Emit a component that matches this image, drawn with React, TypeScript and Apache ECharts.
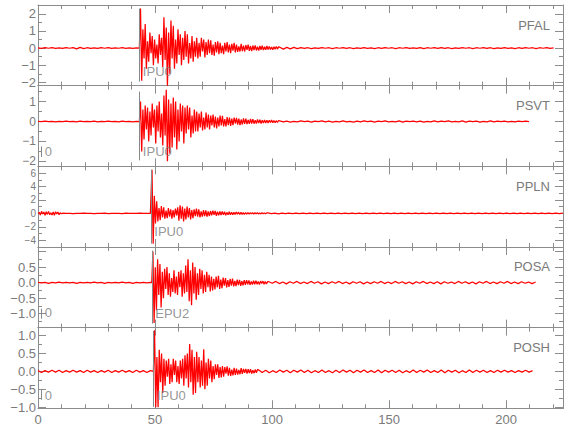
import React, { useEffect, useRef } from 'react';
import * as echarts from 'echarts';

// ---------- data ----------
const STATIONS = ['PFAL', 'PSVT', 'PPLN', 'POSA', 'POSH'];
const X_MAX = 224.3;
const X_TICK_LABELS = [0, 50, 100, 150, 200];
const NOISE_DT = 1.5; // s, sample step of quiet (pre-event / tail) arrays
const CODA_DT = 0.5; // s, sample step of coda and precursor arrays
const ONSETS = [43.3, 43.3, 48.2, 48.6, 49.3];
const PRE_START = [0, 0, 10.5, 0, 0];

const Y_MIN = [-2.19, -2.25, -5.0, -1.45, -1.03];
const Y_MAX = [2.51, 1.8, 7.0, 1.15, 1.22];
const Y_MAJOR = [1, 1, 2, 0.5, 0.5];
const Y_MINOR = [0.5, 0.5, 1, 0.25, 0.25];
const Y_DECIMALS = [0, 0, 0, 1, 1];
const pfalTickLabels = [-2, -1, 0, 1, 2];
const psvtTickLabels = [-2, -1, 0, 1];
const pplnTickLabels = [-4, -2, 0, 2, 4, 6];
const posaTickLabels = [-1, -0.5, 0, 0.5];
const poshTickLabels = [-1, -0.5, 0, 0.5, 1];
const Y_TICK_LABELS = [pfalTickLabels, psvtTickLabels, pplnTickLabels, posaTickLabels, poshTickLabels];

const PICK_NAMES = ['IPU0', 'IPU0', 'IPU0', 'EPU2', 'IPU0'];
const PICK_TIMES = [43.3, 43.3, 48.2, 48.6, 49.3];
const PICK_LABEL_Y = [-1.37, -1.5, -2.7, -0.98, -0.67];
const PICK_LINE_TOP = [2.3, 1.5, 6.5, 1.03, 1.13];
const PICK_LINE_BOTTOM = [-1.95, -1.95, -4.5, -1.32, -0.99];

const ORIGIN_TIME = 1.4;
const ORIGIN_LABEL_Y = [null, -1.5, null, -0.97, -0.67];
const ORIGIN_LINE_TOP = [null, -1.25, null, -0.84, -0.51];
const ORIGIN_LINE_BOTTOM = [null, -1.78, null, -1.16, -0.79];

// PFAL
const pfalPre = [0.01, -0.02, 0.02, -0.01, 0.02, -0.02, 0.01, -0.02, 0.02, -0.01,
  0.03, -0.05, 0.04, -0.03, 0.02, -0.02, 0.01, -0.02, 0.02, -0.01,
  0.02, -0.02, 0.01, -0.01, 0.02, -0.02, 0.01, -0.02, 0.01];
const pfalCoda = [0, 2.3, -1.9, 1.1, -0.6, 1.4, -1.2, 0.4, -0.8, 0.9,
  -0.3, 0.7, -1.0, 0.5, -0.6, 0.2, -0.9, 0.8, -0.4, 0.6,
  -1.1, 1.8, -0.7, 1.2, -2.2, 0.9, -1.5, 1.6, -0.6, 1.3,
  -1.2, 0.5, -0.9, 1.1, -0.4, 0.8, -1.0, 0.6, -0.7, 1.0,
  -0.5, 0.8, -0.9, 0.3, -0.6, 0.7, -0.8, 0.4, -0.5, 0.6,
  -0.6, 0.3, -0.5, 0.6, -0.2, 0.5, -0.55, 0.35, -0.4, 0.5,
  -0.3, 0.45, -0.4, 0.2, -0.45, 0.35, -0.25, 0.4, -0.35, 0.3,
  -0.3, 0.15, -0.35, 0.3, -0.2, 0.35, -0.25, 0.2, -0.3, 0.25,
  -0.15, 0.3, -0.25, 0.2, -0.22, 0.1, -0.2, 0.25, -0.18, 0.15,
  -0.2, 0.18, -0.1, 0.2, -0.16, 0.12, -0.18, 0.15, -0.12, 0.16,
  -0.14, 0.08, -0.15, 0.12, -0.1, 0.14, -0.12, 0.08, -0.1, 0.12,
  -0.09, 0.1, -0.08, 0.06, -0.1, 0.08, -0.07, 0.09, -0.06, 0.07];
const pfalTail = [0.05, -0.06, 0.04, -0.05, 0.04, -0.03,
  0.03, -0.02, 0.02, -0.03, 0.01, -0.02, 0.03, -0.01, 0.02, -0.03,
  0.02, -0.01, 0.03, -0.02, 0.02, -0.03, 0.01, -0.02, 0.03, -0.02,
  0.01, -0.03, 0.02, -0.02, 0.03, -0.01, 0.02, -0.03, 0.02, -0.01,
  0.03, -0.02, 0.01, -0.02, 0.03, -0.03, 0.02, -0.01, 0.02, -0.02,
  0.03, -0.02, 0.02, -0.03, 0.01, -0.02, 0.03, -0.01, 0.02, -0.03,
  0.02, -0.01, 0.03, -0.02, 0.02, -0.03, 0.01, -0.02, 0.03, -0.02,
  0.01, -0.03, 0.02, -0.02, 0.03, -0.01, 0.02, -0.03, 0.02, -0.01,
  0.02, -0.02, 0.01];

// PSVT
const psvtPre = [0.01, -0.01, 0.02, -0.01, 0.01, -0.02, 0.01, -0.01, 0.02, -0.01,
  0.01, -0.02, 0.02, -0.01, 0.01, -0.01, 0.02, -0.02, 0.01, -0.01,
  0.02, -0.01, 0.01, -0.02, 0.02, -0.01, 0.01, -0.02, 0.01];
const psvtCoda = [0, 1.0, -1.5, 0.6, -0.9, 0.8, -0.4, 0.7, -1.0, 0.5,
  -0.7, 0.9, -0.3, 0.6, -1.1, 0.8, -0.5, 1.0, -0.8, 0.4,
  -1.2, 1.3, -0.7, 1.6, -2.0, 1.1, -1.6, 0.9, -1.3, 1.2,
  -0.8, 1.0, -1.4, 0.6, -1.0, 0.9, -0.5, 0.8, -1.1, 0.7,
  -0.6, 0.8, -0.4, 0.7, -0.8, 0.3, -0.6, 0.6, -0.5, 0.5,
  -0.5, 0.4, -0.3, 0.5, -0.45, 0.2, -0.4, 0.45, -0.3, 0.35,
  -0.4, 0.3, -0.2, 0.35, -0.3, 0.25, -0.35, 0.2, -0.25, 0.3,
  -0.2, 0.28, -0.25, 0.12, -0.25, 0.22, -0.18, 0.2, -0.22, 0.15,
  -0.18, 0.2, -0.1, 0.18, -0.16, 0.14, -0.18, 0.1, -0.15, 0.16,
  -0.12, 0.14, -0.13, 0.08, -0.12, 0.13, -0.1, 0.12, -0.11, 0.07,
  -0.1, 0.1, -0.08, 0.09, -0.1, 0.06, -0.08, 0.08, -0.07, 0.06,
  -0.07, 0.06, -0.05, 0.07, -0.06, 0.05, -0.06, 0.04, -0.05, 0.05];
const psvtTail = [0.03, -0.02, 0.02, -0.03, 0.01, -0.02, 0.03, -0.01, 0.02, -0.03,
  0.02, -0.01, 0.03, -0.02, 0.02, -0.03, 0.01, -0.02, 0.03, -0.02,
  0.01, -0.03, 0.02, -0.02, 0.03, -0.01, 0.02, -0.03, 0.02, -0.01,
  0.03, -0.02, 0.01, -0.02, 0.03, -0.03, 0.02, -0.01, 0.02, -0.02,
  0.02, -0.03, 0.01, -0.02, 0.03, -0.02, 0.02, -0.01, 0.03, -0.02,
  0.01, -0.02, 0.03, -0.03, 0.02, -0.01, 0.02, -0.03, 0.01, -0.02,
  0.03, -0.02, 0.02, -0.01, 0.02, -0.02, 0.01, -0.02, 0.02, -0.01,
  0.02, -0.01];

// PPLN
const pplnLead = [0, 0.15, -0.25, 0.3, -0.1, 0.2, -0.3, 0.25, -0.15, 0.3, -0.2,
  0.1, -0.25, 0.2, -0.3, 0.25, -0.1, 0.2, -0.2, 0.1, -0.05];
const pplnPre = [0.02, -0.01, 0.01, -0.02, 0.01, -0.01, 0.02, -0.01, 0.01, -0.02,
  0.01, -0.01, 0.02, -0.02, 0.01, -0.01, 0.01, -0.02, 0.02, -0.01,
  0.01, -0.01, 0.02, -0.01, 0.01, -0.01];
const pplnCoda = [0, 6.5, -4.5, 2.6, -1.5, 1.8, -1.2, 0.8, -1.0, 1.1,
  -0.6, 0.9, -0.8, 0.4, -0.7, 0.8, -0.5, 0.6, -0.8, 0.5,
  -0.6, 0.7, -0.3, 0.9, -1.1, 1.2, -0.8, 1.0, -1.2, 0.7,
  -0.9, 1.0, -0.6, 0.8, -0.9, 0.5, -0.7, 0.6, -0.4, 0.7,
  -0.5, 0.6, -0.6, 0.3, -0.5, 0.5, -0.4, 0.45, -0.5, 0.3,
  -0.4, 0.35, -0.3, 0.4, -0.2, 0.35, -0.35, 0.25, -0.3, 0.3,
  -0.25, 0.3, -0.2, 0.25, -0.28, 0.15, -0.22, 0.25, -0.2, 0.18,
  -0.2, 0.15, -0.18, 0.2, -0.12, 0.18, -0.16, 0.14, -0.15, 0.1,
  -0.14, 0.12, -0.13, 0.1, -0.12, 0.11, -0.08, 0.1, -0.1, 0.09,
  -0.08, 0.1, -0.09, 0.07, -0.08, 0.08, -0.06, 0.07, -0.07, 0.06];
const pplnTail = [0.06, -0.05, 0.04, -0.06, 0.05, -0.03, 0.04, -0.05, 0.03, -0.04,
  0.05, -0.03, 0.04, -0.05, 0.03, -0.04, 0.05, -0.04, 0.03, -0.05,
  0.04, -0.03, 0.05, -0.04, 0.03, -0.05, 0.04, -0.03, 0.04, -0.04,
  0.03, -0.05, 0.04, -0.03, 0.05, -0.04, 0.03, -0.04, 0.05, -0.03,
  0.04, -0.04, 0.03, -0.05, 0.04, -0.03, 0.05, -0.04, 0.03, -0.04,
  0.05, -0.03, 0.04, -0.04, 0.03, -0.05, 0.04, -0.03, 0.04, -0.05,
  0.03, -0.04, 0.05, -0.03, 0.04, -0.04, 0.03, -0.05, 0.04, -0.03,
  0.05, -0.04, 0.03, -0.04, 0.04, -0.03, 0.05, -0.04, 0.03, -0.04,
  0.04, -0.03, 0.03, -0.04, 0.02];

// POSA
const posaPre = [0.01, -0.01, 0.01, -0.02, 0.01, -0.01, 0.02, -0.01, 0.01, -0.01,
  0.01, -0.02, 0.01, -0.01, 0.01, -0.01, 0.02, -0.01, 0.01, -0.02,
  0.01, -0.01, 0.01, -0.01, 0.02, -0.01, 0.01, -0.02, 0.01, -0.01,
  0.01, -0.01, 0.01];
const posaCoda = [0, 1.0, -1.3, 0.5, -0.9, 0.75, -0.4, 0.6, -0.8, 0.35,
  -0.5, 0.45, -0.2, 0.5, -0.4, 0.3, -0.45, 0.15, -0.3, 0.4,
  -0.35, 0.2, -0.4, 0.35, -0.15, 0.4, -0.45, 0.3, -0.35, 0.55,
  -0.3, 0.75, -0.6, 0.4, -0.73, 0.65, -0.35, 0.5, -0.55, 0.3,
  -0.4, 0.45, -0.2, 0.4, -0.35, 0.25, -0.3, 0.35, -0.15, 0.25,
  -0.28, 0.2, -0.25, 0.12, -0.22, 0.2, -0.15, 0.22, -0.2, 0.1,
  -0.18, 0.16, -0.1, 0.15, -0.15, 0.08, -0.14, 0.12, -0.1, 0.13,
  -0.12, 0.06, -0.11, 0.1, -0.08, 0.09, -0.1, 0.05, -0.09, 0.08,
  -0.07, 0.08, -0.05, 0.07, -0.07, 0.04, -0.06, 0.06, -0.05, 0.06,
  -0.05, 0.04, -0.06, 0.05, -0.03, 0.05, -0.05, 0.04, -0.04, 0.03];
const posaTail = [0.03, -0.02, 0.04, -0.03, 0.02, -0.04, 0.03, -0.02, 0.04, -0.03,
  0.02, -0.03, 0.04, -0.02, 0.03, -0.04, 0.02, -0.03, 0.03, -0.02,
  0.04, -0.03, 0.02, -0.04, 0.03, -0.02, 0.03, -0.04, 0.02, -0.03,
  0.03, -0.02, 0.04, -0.03, 0.02, -0.03, 0.04, -0.02, 0.03, -0.03,
  0.02, -0.04, 0.03, -0.02, 0.04, -0.03, 0.02, -0.03, 0.03, -0.04,
  0.03, -0.02, 0.02, -0.03, 0.04, -0.02, 0.03, -0.03, 0.02, -0.04,
  0.03, -0.02, 0.04, -0.03, 0.02, -0.03, 0.03, -0.02, 0.04, -0.03,
  0.02, -0.03, 0.03, -0.02, 0.02, -0.03, 0.02];

// POSH
const poshPre = [0.02, -0.03, 0.02, -0.02, 0.03, -0.02, 0.03, -0.03, 0.02, -0.02,
  0.03, -0.02, 0.02, -0.03, 0.03, -0.02, 0.02, -0.03, 0.02, -0.02,
  0.03, -0.03, 0.02, -0.02, 0.03, -0.02, 0.02, -0.03, 0.03, -0.02,
  0.02, -0.03, 0.02];
const poshCoda = [0, 1.15, -1.0, 0.4, -1.0, 0.6, -0.3, 0.5, -0.6, 0.35,
  -0.4, 0.3, -0.15, 0.35, -0.35, 0.2, -0.3, 0.35, -0.1, 0.3,
  -0.3, 0.15, -0.35, 0.3, -0.2, 0.35, -0.4, 0.45, -0.2, 0.5,
  -0.45, 0.76, -0.3, 0.6, -0.65, 0.4, -0.6, 0.55, -0.3, 0.4,
  -0.45, 0.3, -0.4, 0.62, -0.5, 0.25, -0.4, 0.35, -0.2, 0.3,
  -0.3, 0.15, -0.22, 0.2, -0.1, 0.2, -0.18, 0.12, -0.17, 0.15,
  -0.15, 0.12, -0.06, 0.14, -0.12, 0.1, -0.13, 0.05, -0.11, 0.1,
  -0.1, 0.08, -0.09, 0.04, -0.08, 0.09, -0.07, 0.07, -0.04, 0.07,
  -0.06, 0.06, -0.05, 0.06, -0.06, 0.03, -0.05, 0.05, -0.04, 0.05];
const poshTail = [0.04, -0.03, 0.03, -0.04, 0.02, -0.03, 0.04, -0.02, 0.03, -0.04,
  0.03, -0.02, 0.04, -0.03, 0.03, -0.04, 0.02, -0.03, 0.04, -0.03,
  0.02, -0.04, 0.03, -0.03, 0.04, -0.02, 0.03, -0.04, 0.03, -0.02,
  0.04, -0.03, 0.02, -0.03, 0.04, -0.04, 0.03, -0.02, 0.03, -0.03,
  0.03, -0.04, 0.02, -0.03, 0.04, -0.03, 0.03, -0.02, 0.04, -0.03,
  0.02, -0.03, 0.04, -0.04, 0.03, -0.02, 0.03, -0.04, 0.02, -0.03,
  0.04, -0.03, 0.03, -0.02, 0.03, -0.03, 0.02, -0.03, 0.03, -0.02,
  0.03, -0.02, 0.02, -0.03, 0.02, -0.02, 0.03, -0.02, 0.02];

const LEAD = [null, null, pplnLead, null, null];
const PRE = [pfalPre, psvtPre, pplnPre, posaPre, poshPre];
const CODA = [pfalCoda, psvtCoda, pplnCoda, posaCoda, poshCoda];
const TAIL = [pfalTail, psvtTail, pplnTail, posaTail, poshTail];

// ---------- styling ----------
const AX = '#8c8c8c';
const TXT = '#7a7a7a';
const TRACE = '#ff0000';
const FONT = "'Liberation Sans Narrow', 'Liberation Sans', sans-serif";
const Y_LABEL_FONT = [13, 12, 10, 13, 13];
const GRID_TOP = 5;
const PANEL_H = 80.66;
const GRID_LEFT = 38;
const GRID_RIGHT = 17;

function buildTrace(i: number): number[][] {
  const pts: number[][] = [];
  const lead = LEAD[i];
  if (lead) lead.forEach((v, k) => pts.push([k * CODA_DT, v]));
  PRE[i].forEach((v, k) => pts.push([PRE_START[i] + k * NOISE_DT, v]));
  CODA[i].forEach((v, k) => pts.push([ONSETS[i] + k * CODA_DT, v]));
  const tailStart = ONSETS[i] + CODA[i].length * CODA_DT;
  TAIL[i].forEach((v, k) => pts.push([tailStart + k * NOISE_DT, v]));
  return pts;
}

function fmtY(i: number) {
  return (v: number) => {
    const ok = Y_TICK_LABELS[i].some((t) => Math.abs(t - v) < 1e-6);
    if (!ok) return '';
    const s = (Math.abs(v) < 1e-9 ? 0 : v).toFixed(Y_DECIMALS[i]);
    return s.replace('-', '\u2212');
  };
}

function buildOption() {
  const grid: any[] = [];
  const xAxis: any[] = [];
  const yAxis: any[] = [];
  const series: any[] = [];
  const graphic: any[] = [];

  STATIONS.forEach((name, i) => {
    const top = GRID_TOP + i * PANEL_H;
    grid.push({ left: GRID_LEFT, right: GRID_RIGHT, top, height: PANEL_H, containLabel: false });

    const xDef = (pos: string, major: boolean) => ({
      type: 'value', gridIndex: i, position: pos, min: 0, max: X_MAX,
      interval: major ? 50 : 10,
      axisLine: { show: major, onZero: false, lineStyle: { color: AX, width: 1 } },
      axisTick: { show: true, inside: true, length: major ? 8 : 4, lineStyle: { color: AX, width: 1 } },
      axisLabel: {
        show: major && pos === 'bottom' && i === STATIONS.length - 1,
        color: TXT, fontFamily: FONT, fontSize: 13, margin: 5, lineHeight: 12,
        formatter: (v: number) => (X_TICK_LABELS.includes(v) ? String(v) : ''),
      },
      splitLine: { show: false },
    });
    xAxis.push(xDef('bottom', true), xDef('top', true), xDef('bottom', false), xDef('top', false));

    const yDef = (pos: string, major: boolean) => {
      const step = major ? Y_MAJOR[i] : Y_MINOR[i];
      return {
        type: 'value', gridIndex: i, position: pos, min: Y_MIN[i], max: Y_MAX[i],
        minInterval: step, maxInterval: step, splitNumber: 5,
        axisLine: { show: major, onZero: false, lineStyle: { color: AX, width: 1 } },
        axisTick: { show: true, inside: true, length: major ? 8 : 4, lineStyle: { color: AX, width: 1 } },
        axisLabel: {
          show: major && pos === 'left',
          color: TXT, fontFamily: FONT, fontSize: Y_LABEL_FONT[i], margin: 2,
          lineHeight: Y_LABEL_FONT[i],
          formatter: fmtY(i),
        },
        splitLine: { show: false },
      };
    };
    yAxis.push(yDef('left', true), yDef('right', true), yDef('left', false), yDef('right', false));

    const lines: any[] = [
      [{ coord: [PICK_TIMES[i], PICK_LINE_BOTTOM[i]] }, { coord: [PICK_TIMES[i], PICK_LINE_TOP[i]] }],
    ];
    const labels: any[] = [
      { value: [PICK_TIMES[i], PICK_LABEL_Y[i]], name: PICK_NAMES[i] },
    ];
    if (ORIGIN_LABEL_Y[i] != null) {
      lines.push([
        { coord: [ORIGIN_TIME, ORIGIN_LINE_BOTTOM[i]] },
        { coord: [ORIGIN_TIME, ORIGIN_LINE_TOP[i]] },
      ]);
      labels.push({ value: [ORIGIN_TIME, ORIGIN_LABEL_Y[i]], name: '0' });
    }

    series.push({
      type: 'line', name, xAxisIndex: 4 * i, yAxisIndex: 4 * i,
      data: buildTrace(i), symbol: 'none', showSymbol: false,
      lineStyle: { color: TRACE, width: 1.25 }, z: 2,
      emphasis: { disabled: true },
      markLine: {
        silent: true, symbol: ['none', 'none'], label: { show: false },
        lineStyle: { color: '#888888', width: 1, type: 'solid' },
        emphasis: { disabled: true },
        data: lines,
      },
    });
    series.push({
      type: 'scatter', xAxisIndex: 4 * i, yAxisIndex: 4 * i,
      data: labels, symbolSize: 1, itemStyle: { color: 'rgba(0,0,0,0)' }, silent: true, z: 4,
      label: {
        show: true, position: 'right', distance: 3, formatter: '{b}',
        color: TXT, fontFamily: FONT, fontSize: 13,
      },
    });

    graphic.push({
      type: 'text', x: 550, y: top + 20,
      style: {
        text: name, fill: TXT, font: `13px ${FONT}`,
        align: 'right', verticalAlign: 'middle', textAlign: 'right', textVerticalAlign: 'middle',
      },
    });
  });

  return { animation: false, backgroundColor: '#ffffff', grid, xAxis, yAxis, series, graphic };
}

export default function App() {
  const ref = useRef<HTMLDivElement>(null);
  useEffect(() => {
    document.body.style.margin = '0';
    const chart = echarts.init(ref.current as HTMLDivElement, null, { renderer: 'svg' });
    chart.setOption(buildOption() as any);
    return () => chart.dispose();
  }, []);
  return (
    <div
      ref={ref}
      style={{ width: 580, height: 440, position: 'absolute', left: 0, top: 0, background: '#fff' }}
    />
  );
}
